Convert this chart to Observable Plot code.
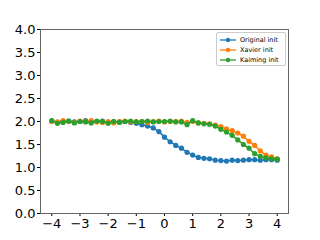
<!DOCTYPE html>
<html><head><meta charset="utf-8">
<script src="https://cdn.jsdelivr.net/npm/d3@7"></script>
<script src="https://cdn.jsdelivr.net/npm/@observablehq/plot@0.6"></script>
<style>
body{margin:0;background:#fff;}
#wrap{position:relative;width:320px;height:240px;font-family:"DejaVu Sans",sans-serif;}
#legend{position:absolute;left:216px;top:32px;width:70px;height:34px;border:1px solid #ccc;border-radius:2px;background:rgba(255,255,255,0.8);font-size:6.5px;color:#000;box-sizing:border-box;padding-top:2px;}
.row{display:flex;align-items:center;height:10px;}
.row svg{margin-left:3px;margin-right:4px;}
</style></head>
<body><div id="wrap"><div id="legend"></div></div>
<script>
const xs = [-4,-3.8,-3.6,-3.4,-3.2,-3,-2.8,-2.6,-2.4,-2.2,-2,-1.8,-1.6,-1.4,-1.2,-1,-0.8,-0.6,-0.4,-0.2,0,0.2,0.4,0.6,0.8,1,1.2,1.4,1.6,1.8,2,2.2,2.4,2.6,2.8,3,3.2,3.4,3.6,3.8,4];
const original = [2.01,1.98,2.0,2.01,1.99,2.0,2.02,1.99,2.0,2.01,1.98,2.0,1.99,2.0,1.98,1.96,1.93,1.90,1.86,1.78,1.66,1.56,1.48,1.42,1.33,1.27,1.22,1.20,1.19,1.16,1.15,1.14,1.16,1.15,1.16,1.17,1.17,1.16,1.17,1.17,1.16];
const xavier = [2.0,1.99,2.02,2.0,1.98,2.01,2.0,2.02,1.99,1.98,2.0,1.97,2.0,2.01,1.99,2.0,2.0,1.98,2.0,2.01,1.99,2.0,2.0,2.01,1.98,2.0,1.97,1.96,1.95,1.92,1.89,1.84,1.80,1.75,1.68,1.57,1.48,1.36,1.27,1.23,1.19];
const kaiming = [2.02,1.96,1.98,2.01,1.97,2.0,1.99,1.97,2.01,2.0,1.96,2.0,1.98,2.0,2.01,1.99,2.0,2.01,1.99,2.0,2.0,2.01,1.99,1.99,1.93,2.02,1.97,1.95,1.94,1.90,1.83,1.77,1.70,1.60,1.50,1.42,1.30,1.24,1.21,1.19,1.18];
const names = ["Original init","Xavier init","Kaiming init"];
const colors = ["#1f77b4","#ff7f0e","#2ca02c"];
const xTicks = [-4,-3,-2,-1,0,1,2,3,4];
const yTicks = [0,0.5,1,1.5,2,2.5,3,3.5,4];

const series = [original, xavier, kaiming];
const rows = [];
series.forEach((s,k)=>s.forEach((v,i)=>rows.push({x:xs[i], y:v, name:names[k]})));

const marks = [];
names.forEach((n,k)=>{
  const d = rows.filter(r=>r.name===n);
  marks.push(Plot.line(d,{x:"x",y:"y",stroke:colors[k],strokeWidth:1.5}));
  marks.push(Plot.dot(d,{x:"x",y:"y",fill:colors[k],r:2.6,stroke:"none"}));
});

const chart = Plot.plot({
  width:320, height:240,
  marginLeft:40, marginRight:32, marginTop:29, marginBottom:27,
  style:{fontFamily:"DejaVu Sans, sans-serif", background:"#fff"},
  x:{domain:[-4.4,4.4]},
  y:{domain:[0,4]},
  marks:[
    Plot.axisX({ticks:xTicks, tickFormat:d=>d<0?"\u2212"+Math.abs(d):String(d), tickSize:3, tickPadding:2, fontSize:13, stroke:"#000", color:"#000", label:null}),
    Plot.axisY({ticks:yTicks, tickFormat:d=>d.toFixed(1), tickSize:3, tickPadding:2, fontSize:13, stroke:"#000", color:"#000", label:null}),
    ...marks,
    Plot.frame({stroke:"#666", strokeWidth:1})
  ]
});
const wrap = document.getElementById("wrap");
wrap.insertBefore(chart, wrap.firstChild);

const leg = document.getElementById("legend");
names.forEach((n,k)=>{
  const r = document.createElement("div"); r.className="row";
  r.innerHTML = `<svg width="16" height="6"><line x1="0" y1="3" x2="16" y2="3" stroke="${colors[k]}" stroke-width="1.3"/><circle cx="8" cy="3" r="2.2" fill="${colors[k]}"/></svg><span>${n}</span>`;
  leg.appendChild(r);
});
</script></body></html>
